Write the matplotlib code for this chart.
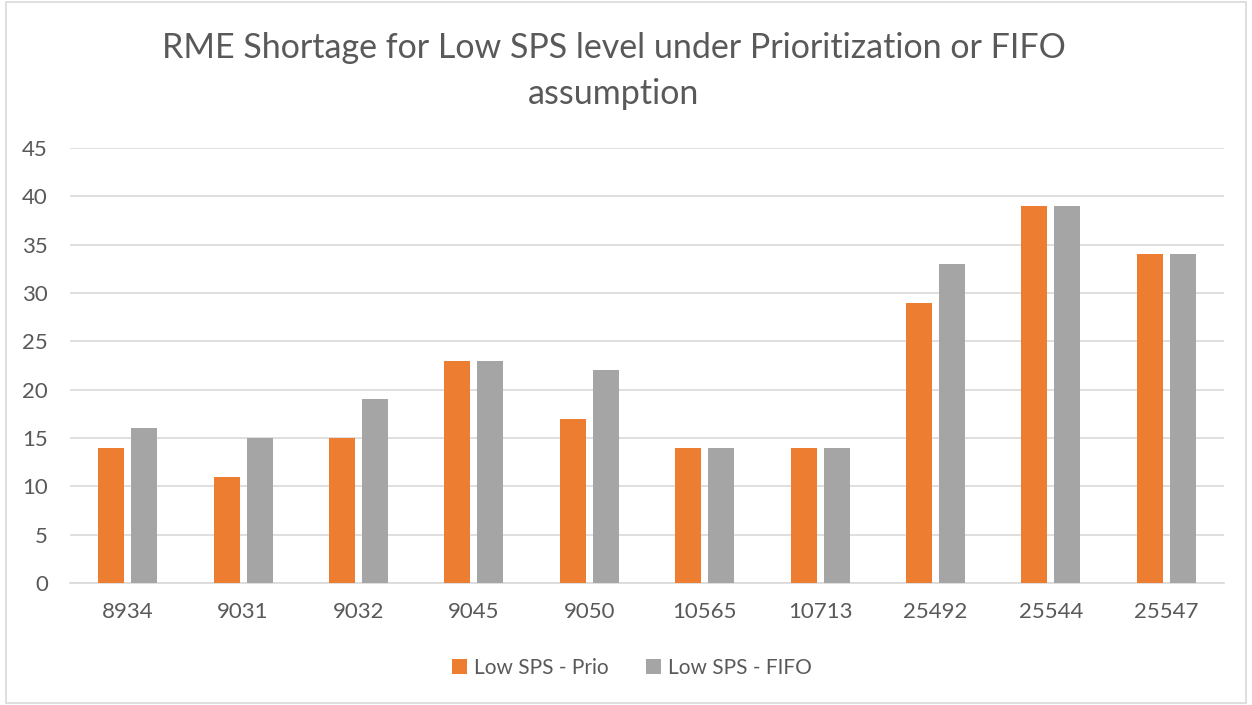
import numpy as np
import matplotlib.pyplot as plt
from matplotlib.patches import Rectangle

# data
categories = ['8934', '9031', '9032', '9045', '9050', '10565', '10713', '25492', '25544', '25547']
prio = [14, 11, 15, 23, 17, 14, 14, 29, 39, 34]
fifo = [16, 15, 19, 23, 22, 14, 14, 33, 39, 34]

plt.rcParams['font.family'] = ['Lato', 'DejaVu Sans']
txt = '#595959'
grid_c = '#D9D9D9'

W, H = 1252, 705
fig = plt.figure(figsize=(W / 100, H / 100), dpi=100)
fig.patches.append(Rectangle((6 / W, 2 / H), 1 - 12 / W, 1 - 4 / H, transform=fig.transFigure,
                             fill=False, edgecolor=grid_c, linewidth=1.2))

ax = fig.add_axes([70 / W, 1 - 583 / H, (1224 - 70) / W, (583 - 148) / H])

x = np.arange(len(categories))
w = 0.225
ax.bar(x - 0.143, prio, width=w, color='#ED7D31', label='Low SPS - Prio', zorder=3)
ax.bar(x + 0.143, fifo, width=w, color='#A5A5A5', label='Low SPS - FIFO', zorder=3)

ax.set_xlim(-0.5, len(categories) - 0.5)
ax.set_ylim(0, 45)
ax.set_yticks(range(0, 46, 5))
ax.set_xticks(x)
ax.set_xticklabels(categories)
ax.yaxis.grid(True, color=grid_c, linewidth=1.2, zorder=0)
ax.tick_params(length=0, labelsize=16, colors=txt)
ax.tick_params(axis='x', pad=14)
ax.tick_params(axis='y', pad=16)
for s in ['top', 'right', 'left']:
    ax.spines[s].set_visible(False)
ax.spines['bottom'].set_color(grid_c)
ax.spines['bottom'].set_linewidth(1.2)

fig.text(0.49, 1 - 71 / H, 'RME Shortage for Low SPS level under Prioritization or FIFO\nassumption',
         ha='center', va='center', fontsize=24.5, color=txt, linespacing=1.55)

fig.legend(loc='center', bbox_to_anchor=(0.505, 1 - 668 / H), ncol=2, frameon=False,
           fontsize=15, labelcolor=txt, handlelength=0.7, handleheight=0.7,
           columnspacing=1.8, handletextpad=0.35)

fig.savefig('out.png', dpi=100)
